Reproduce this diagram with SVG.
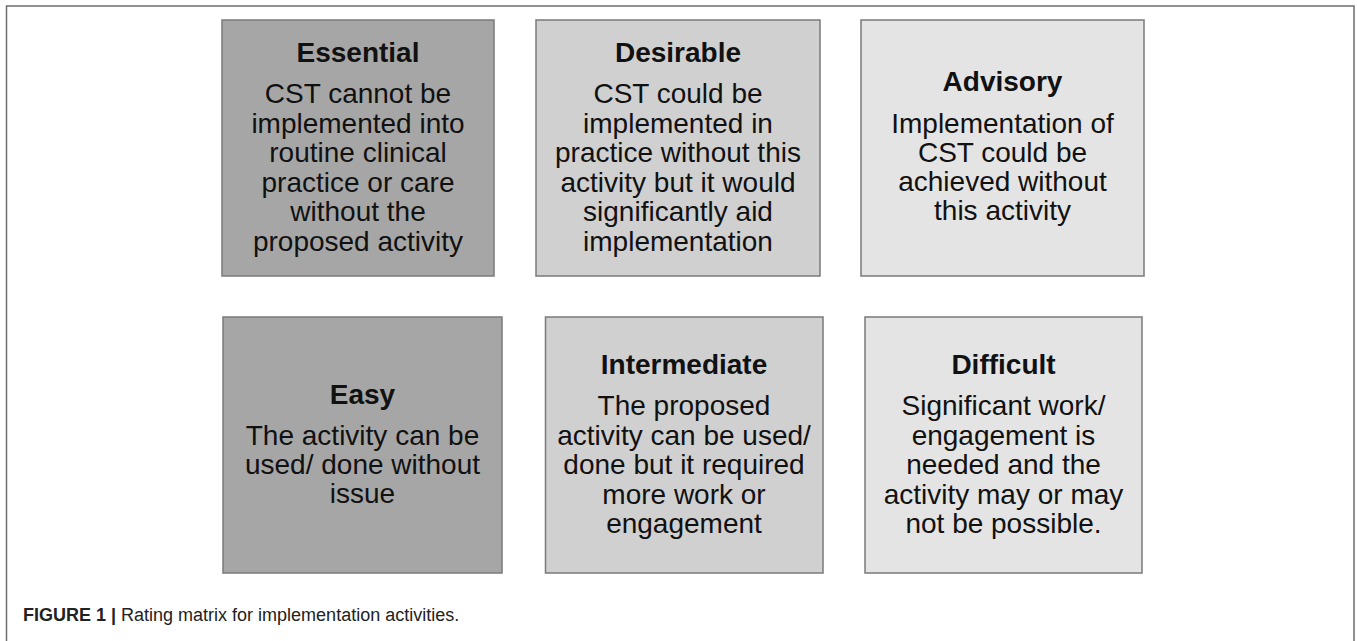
<svg xmlns="http://www.w3.org/2000/svg" width="1357" height="641" viewBox="0 0 1357 641">
<style>
.box{stroke:#7a7a7a;stroke-width:1.5}
.c1{fill:#a6a6a6}.c2{fill:#d0d0d0}.c3{fill:#e4e4e4}
.t{font-family:"Liberation Sans",Arial,sans-serif;font-size:28px;fill:#111;text-anchor:middle}
.h{font-weight:bold}
.cap{font-family:"Liberation Sans",Arial,sans-serif;font-size:18px;fill:#222}
</style>
<rect width="1357" height="641" fill="#fff"/>
<path d="M6.5,641 V6 H1354 V641" fill="none" stroke="#6e6e6e" stroke-width="1.5"/>
<g id="essential">
<rect class="box c1" x="222" y="20" width="272" height="256"/>
<text class="t h" x="358" y="62">Essential</text>
<text class="t" x="358" y="103">CST cannot be</text>
<text class="t" x="358" y="132.5">implemented into</text>
<text class="t" x="358" y="162">routine clinical</text>
<text class="t" x="358" y="191.5">practice or care</text>
<text class="t" x="358" y="221">without the</text>
<text class="t" x="358" y="250.5">proposed activity</text>
</g>
<g id="desirable">
<rect class="box c2" x="536" y="20" width="284" height="256"/>
<text class="t h" x="678" y="62">Desirable</text>
<text class="t" x="678" y="103">CST could be</text>
<text class="t" x="678" y="132.5">implemented in</text>
<text class="t" x="678" y="162">practice without this</text>
<text class="t" x="678" y="191.5">activity but it would</text>
<text class="t" x="678" y="221">significantly aid</text>
<text class="t" x="678" y="250.5">implementation</text>
</g>
<g id="advisory">
<rect class="box c3" x="861" y="20" width="283" height="256"/>
<text class="t h" x="1002.5" y="91">Advisory</text>
<text class="t" x="1002.5" y="133">Implementation of</text>
<text class="t" x="1002.5" y="162">CST could be</text>
<text class="t" x="1002.5" y="191">achieved without</text>
<text class="t" x="1002.5" y="220">this activity</text>
</g>
<g id="easy">
<rect class="box c1" x="223" y="317" width="279" height="256"/>
<text class="t h" x="362.5" y="404">Easy</text>
<text class="t" x="362.5" y="445">The activity can be</text>
<text class="t" x="362.5" y="474">used/ done without</text>
<text class="t" x="362.5" y="503">issue</text>
</g>
<g id="intermediate">
<rect class="box c2" x="545.5" y="317" width="277.5" height="256"/>
<text class="t h" x="684" y="374">Intermediate</text>
<text class="t" x="684" y="415">The proposed</text>
<text class="t" x="684" y="444.5">activity can be used/</text>
<text class="t" x="684" y="474">done but it required</text>
<text class="t" x="684" y="503.5">more work or</text>
<text class="t" x="684" y="533">engagement</text>
</g>
<g id="difficult">
<rect class="box c3" x="865" y="317" width="277" height="256"/>
<text class="t h" x="1003.5" y="374">Difficult</text>
<text class="t" x="1003.5" y="415">Significant work/</text>
<text class="t" x="1003.5" y="444.5">engagement is</text>
<text class="t" x="1003.5" y="474">needed and the</text>
<text class="t" x="1003.5" y="503.5">activity may or may</text>
<text class="t" x="1003.5" y="533">not be possible.</text>
</g>
<g id="connectors"/>
<text class="cap" x="23" y="621"><tspan font-weight="bold">FIGURE 1 | </tspan>Rating matrix for implementation activities.</text>
</svg>
